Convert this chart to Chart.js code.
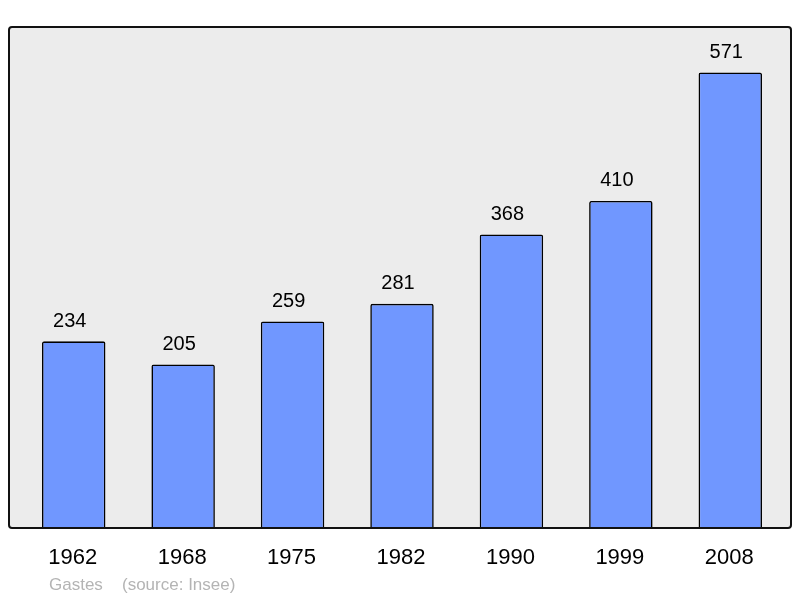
<!DOCTYPE html>
<html>
<head>
<meta charset="utf-8">
<script src="https://cdn.jsdelivr.net/npm/chart.js@4/dist/chart.umd.min.js"></script>
<style>
  html, body { margin: 0; padding: 0; background: #fff; }
  canvas { display: block; }
</style>
</head>
<body>
<canvas id="chart" width="800" height="598"></canvas>
<script>
// Census years and population
const years = ['1962', '1968', '1975', '1982', '1990', '1999', '2008'];
const population = [234, 205, 259, 281, 368, 410, 571];
const town = 'Gastes';
const source = '(source: Insee)';

const kFont = '"Liberation Sans", Arial, sans-serif';

// Grey frame behind the bars, labels drawn from the scales
const framePlugin = {
    id: 'frame',
    beforeDatasetsDraw(chart) {
        const { ctx, chartArea } = chart;
        ctx.save();
        ctx.fillStyle = '#ececec';
        ctx.beginPath();
        ctx.roundRect(9, chartArea.top, 782, chartArea.bottom - chartArea.top, 3);
        ctx.fill();
        ctx.restore();
    },
    afterDatasetsDraw(chart) {
        const { ctx, chartArea, scales } = chart;
        ctx.save();
        ctx.strokeStyle = '#111';
        ctx.lineWidth = 2;
        ctx.beginPath();
        ctx.roundRect(9, chartArea.top, 782, chartArea.bottom - chartArea.top, 3);
        ctx.stroke();

        ctx.fillStyle = '#000';
        ctx.textAlign = 'center';
        ctx.textBaseline = 'middle';
        // value labels above each bar (sit a little left of centre)
        ctx.font = '20px ' + kFont;
        population.forEach((v, i) => {
            const x = scales.x.getPixelForValue(i) - 4;
            const y = scales.y.getPixelForValue(v);
            ctx.fillText(String(v), x, y - 20);
        });
        // year labels under the frame
        ctx.font = '22px ' + kFont;
        years.forEach((year, i) => {
            ctx.fillText(year, scales.x.getPixelForValue(i) - 1, chartArea.bottom + 30);
        });
        // footer
        ctx.fillStyle = '#b4b4b4';
        ctx.textAlign = 'left';
        ctx.font = '17px ' + kFont;
        ctx.fillText(town, 49, 585);
        ctx.fillText(source, 122, 585);
        ctx.restore();
    }
};

const chart = new Chart(
    document.getElementById('chart'),
    {
        type: 'bar',
        data: {
            labels: years,
            datasets: [
                {
                    data: population,
                    backgroundColor: '#7097ff',
                    borderColor: '#000',
                    borderWidth: 1.6,
                    borderSkipped: 'bottom',
                    borderRadius: 2,
                    barPercentage: 0.58,
                    categoryPercentage: 1,
                },
            ]
        },
        plugins: [framePlugin],
        options: {
            responsive: false,
            animation: false,
            layout: {
                padding: { left: 19, right: 15, top: 27, bottom: 70 },
            },
            scales: {
                x: { display: false },
                y: { display: false, min: 0, max: 628 },
            },
            plugins: {
                legend: { display: false },
                tooltip: { enabled: false },
            }
        },
    }
);
</script>
</body>
</html>
